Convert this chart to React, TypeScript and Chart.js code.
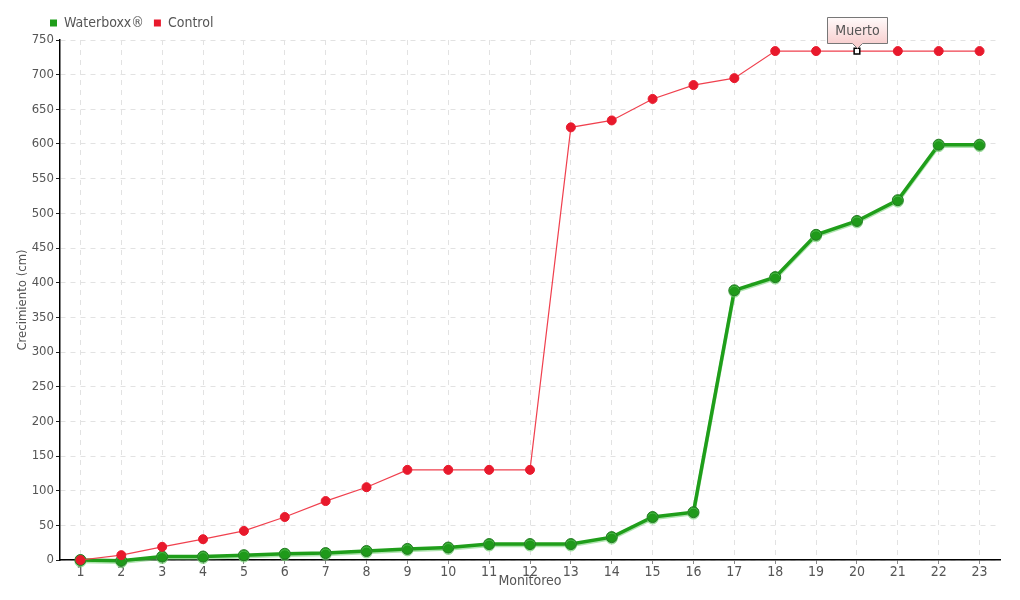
import React, { useEffect, useRef } from "react";
import { Chart, registerables } from "chart.js";

Chart.register(...registerables);

const categories = ["1","2","3","4","5","6","7","8","9","10","11","12","13","14","15","16","17","18","19","20","21","22","23"];
const waterboxx = [0, -1, 5, 5, 7, 9, 10, 13, 16, 18, 23, 23, 23, 33, 62, 69, 389, 408, 469, 489, 519, 599, 599];
const control = [0, 7, 19, 30, 42, 62, 85, 105, 130, 130, 130, 130, 624, 634, 665, 685, 695, 734, 734, 734, 734, 734, 734];
const seriesNames = ["Waterboxx®", "Control"];
const annotationIndex = 19;
const annotationText = "Muerto";

const FONT = "'Liberation Sans Narrow', 'DejaVu Sans Condensed', sans-serif";
const TEXT = "#555555";
const GREEN = "#1f9e1a";
const RED = "#e8192c";

const annotationPlugin = {
  id: "muerto",
  afterDatasetsDraw(chart: any) {
    const meta = chart.getDatasetMeta(1);
    const el = meta.data[annotationIndex];
    if (!el) return;
    const ctx = chart.ctx;
    const px = Math.round(el.x) + 0.5;
    const py = el.y;
    const w = 60, h = 26;
    const bottom = Math.round(py - 8) + 0.5;
    const top = bottom - h;
    const left = px - w / 2;
    ctx.save();
    const g = ctx.createLinearGradient(0, top, 0, bottom);
    g.addColorStop(0, "#fffafa");
    g.addColorStop(1, "#f8d0d0");
    ctx.beginPath();
    ctx.moveTo(left, top);
    ctx.lineTo(left + w, top);
    ctx.lineTo(left + w, bottom);
    ctx.lineTo(px + 5, bottom);
    ctx.lineTo(px, bottom + 5);
    ctx.lineTo(px - 5, bottom);
    ctx.lineTo(left, bottom);
    ctx.closePath();
    ctx.fillStyle = g;
    ctx.fill();
    ctx.strokeStyle = "#777777";
    ctx.lineWidth = 1;
    ctx.stroke();
    ctx.fillStyle = TEXT;
    ctx.font = `14px ${FONT}`;
    ctx.textAlign = "center";
    ctx.textBaseline = "middle";
    ctx.fillText(annotationText, px, (top + bottom) / 2 + 1);
    ctx.restore();
  },
};

const shadowPlugin = {
  id: "greenShadow",
  beforeDatasetDraw(chart: any, args: any) {
    if (args.index === 0) {
      const ctx = chart.ctx;
      ctx.save();
      ctx.shadowColor = "rgba(110, 205, 110, 0.55)";
      ctx.shadowOffsetX = 0;
      ctx.shadowOffsetY = 1.5;
      ctx.shadowBlur = 0;
    }
  },
  afterDatasetDraw(chart: any, args: any) {
    if (args.index === 0) chart.ctx.restore();
  },
};

const legendShiftPlugin = {
  id: "legendShift",
  afterLayout(chart: any) {
    if (chart.legend) {
      chart.legend.left += 25;
      chart.legend.right += 25;
    }
  },
};

export default function App() {
  const ref = useRef<HTMLCanvasElement | null>(null);
  useEffect(() => {
    if (!ref.current) return;
    const controlStyles = control.map((_, i) => (i === annotationIndex ? "rect" : "circle"));
    const controlBg = control.map((_, i) => (i === annotationIndex ? "#ffffff" : RED));
    const controlBorder = control.map((_, i) => (i === annotationIndex ? "#000000" : RED));
    const controlRadius = control.map((_, i) => (i === annotationIndex ? 4 : 4.5));
    const controlBW = control.map((_, i) => (i === annotationIndex ? 1.5 : 1));
    const chart = new Chart(ref.current, {
      type: "line",
      data: {
        labels: categories,
        datasets: [
          {
            label: seriesNames[0],
            data: waterboxx,
            borderColor: GREEN,
            backgroundColor: GREEN,
            borderWidth: 3.5,
            pointRadius: 5.5,
            pointBackgroundColor: "#1f9a1a",
            pointBorderColor: "#237a23",
            pointBorderWidth: 1,
            tension: 0,
            clip: false as any,
            order: 1,
          },
          {
            label: seriesNames[1],
            data: control,
            borderColor: "#f0404e",
            backgroundColor: RED,
            borderWidth: 1.2,
            pointStyle: controlStyles as any,
            pointRadius: controlRadius,
            pointBackgroundColor: controlBg,
            pointBorderColor: controlBorder,
            pointBorderWidth: controlBW,
            tension: 0,
            clip: false as any,
            order: 0,
          },
        ],
      },
      options: {
        animation: false,
        responsive: true,
        maintainAspectRatio: false,
        layout: { padding: { left: 15, right: 20, top: 6, bottom: 8 } },
        plugins: {
          tooltip: { enabled: false },
          legend: {
            position: "top",
            align: "start",
            labels: {
              font: { family: FONT, size: 14 },
              color: TEXT,
              boxWidth: 7,
              boxHeight: 7,
              padding: 10,
              sort: (a: any, b: any) => a.datasetIndex - b.datasetIndex,
              generateLabels: (c: any) =>
                Chart.defaults.plugins.legend.labels.generateLabels(c).map((l: any) => ({
                  ...l,
                  lineWidth: 0,
                  strokeStyle: "transparent",
                })),
            },
          },
        },
        scales: {
          x: {
            offset: true,
            grid: {
              color: "#e2e2e2",
              tickColor: "#888888",
              tickLength: 4,
              offset: false,
            },
            border: { display: true, color: "#000000", width: 1.5, dash: [5, 5] },
            ticks: { font: { family: FONT, size: 14 }, color: TEXT, padding: 0, maxRotation: 0, autoSkip: false },
            title: { display: true, text: "Monitoreo", font: { family: FONT, size: 14 }, color: TEXT, padding: { top: 0, bottom: 2 } },
            afterFit: (s: any) => { s.height = 32; },
          },
          y: {
            min: 0,
            max: 750,
            grid: {
              color: "#e2e2e2",
              tickColor: "#222222",
              tickLength: 4,
            },
            border: { display: true, color: "#000000", width: 1.5, dash: [5, 5] },
            ticks: { stepSize: 50, font: { family: FONT, size: 13 }, color: TEXT, padding: 2 },
            title: { display: true, text: "Crecimiento (cm)", font: { family: FONT, size: 13 }, color: TEXT, padding: { top: 0, bottom: 0 } },
            afterFit: (s: any) => { s.width = 45; },
          },
        },
      },
      plugins: [shadowPlugin, annotationPlugin, legendShiftPlugin],
    });
    return () => chart.destroy();
  }, []);
  return (
    <div style={{ position: "fixed", left: 0, top: 0, width: 1020, height: 600, background: "#ffffff" }}>
      <canvas ref={ref} />
    </div>
  );
}
